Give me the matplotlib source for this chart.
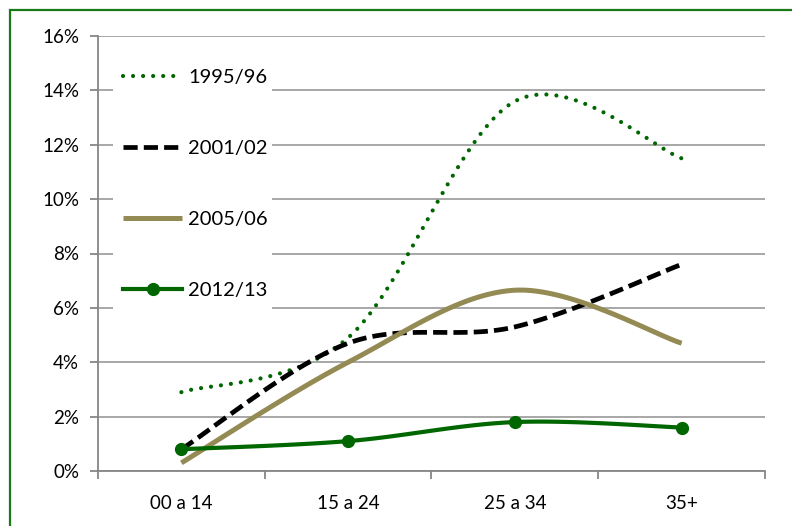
import matplotlib
matplotlib.use("Agg")
import matplotlib.pyplot as plt
from matplotlib.patches import Rectangle
import numpy as np

# dados (%)
categorias = ["00 a 14", "15 a 24", "25 a 34", "35+"]
s1995 = [2.9, 4.9, 13.6, 11.5]
s2001 = [0.8, 4.7, 5.3, 7.6]
s2005 = [0.3, 4.0, 6.65, 4.7]
s2012 = [0.8, 1.1, 1.8, 1.6]

plt.rcParams['font.family'] = ['Lato', 'DejaVu Sans']


def suavizar(y, n=40):
    # curva suave tipo Excel (bezier com pontos de controle catmull-rom)
    x = np.arange(len(y), dtype=float)
    y = np.asarray(y, dtype=float)
    px = np.concatenate([[x[0]], x, [x[-1]]])
    py = np.concatenate([[y[0]], y, [y[-1]]])
    xs, ys = [], []
    t = np.linspace(0, 1, n)
    for i in range(len(y) - 1):
        p0 = np.array([px[i + 1], py[i + 1]])
        p3 = np.array([px[i + 2], py[i + 2]])
        c1 = p0 + (p3 - np.array([px[i], py[i]])) / 6
        c2 = p3 - (np.array([px[i + 3], py[i + 3]]) - p0) / 6
        b = ((1 - t) ** 3)[:, None] * p0 + (3 * (1 - t) ** 2 * t)[:, None] * c1 \
            + (3 * (1 - t) * t ** 2)[:, None] * c2 + (t ** 3)[:, None] * p3
        xs.extend(b[:, 0])
        ys.extend(b[:, 1])
    return np.array(xs), np.array(ys)


fig = plt.figure(figsize=(7.92, 5.26), dpi=100)
ax = fig.add_axes([98 / 792, 1 - 471 / 526, 667 / 792, 435 / 526])

verde = '#006600'
x, y = suavizar(s1995)
ax.plot(x, y, color=verde, linewidth=3.0, linestyle=(0, (0.01, 2.4)),
        dash_capstyle='round', label='1995/96', zorder=3)
x, y = suavizar(s2001)
ax.plot(x, y, color='black', linewidth=3.4, linestyle=(0, (3.0, 1.3)),
        label='2001/02', zorder=3)
x, y = suavizar(s2005)
ax.plot(x, y, color='#948A54', linewidth=3.6, label='2005/06', zorder=3,
        solid_capstyle='butt')
x, y = suavizar(s2012)
ax.plot(x, y, color=verde, linewidth=3.0, zorder=4)
ax.plot(range(len(s2012)), s2012, color=verde, linestyle='none', marker='o',
        markersize=8.5, zorder=5)
ax.plot([], [], color=verde, linewidth=3.0, marker='o', markersize=8.5,
        label='2012/13')

ax.set_xlim(-0.5, 3.5)
ax.set_ylim(0, 16)
ax.set_yticks(range(0, 17, 2))
ax.set_yticklabels([f"{v}%" for v in range(0, 17, 2)])
ax.set_xticks(range(4))
ax.set_xticklabels(categorias)
ax.set_xticks(np.arange(-0.5, 4, 1), minor=True)
ax.tick_params(axis='x', which='major', length=0, pad=17, labelsize=13.5)
ax.tick_params(axis='x', which='minor', length=5.5, width=1.3, color='#868686')
ax.tick_params(axis='y', length=5.5, width=1.3, color='#868686', pad=8,
               labelsize=13.5)

ax.grid(axis='y', color='#a0a0a0', linewidth=1.3)
ax.set_axisbelow(True)
for s in ['top', 'right']:
    ax.spines[s].set_visible(False)
for s in ['left', 'bottom']:
    ax.spines[s].set_color('#868686')
    ax.spines[s].set_linewidth(1.3)

# fundo branco da legenda
ax.add_patch(Rectangle((15 / 667, (471 - 335) / 435), 159 / 667, 293 / 435,
                       transform=ax.transAxes, facecolor='white',
                       edgecolor='none', zorder=1))
ax.legend(loc='upper left', bbox_to_anchor=(25 / 667, (471 - 69) / 435),
          frameon=False, fontsize=14.5, labelspacing=2.68, handlelength=2.95,
          handletextpad=0.3, borderpad=0, borderaxespad=0)

# borda verde
fig.patches.append(Rectangle((10 / 792, -0.1), 1.1, 1 - 10 / 526 + 0.1,
                             transform=fig.transFigure, fill=False,
                             edgecolor='#1a7a1a', linewidth=1.6))

fig.savefig('out.png', dpi=100)
